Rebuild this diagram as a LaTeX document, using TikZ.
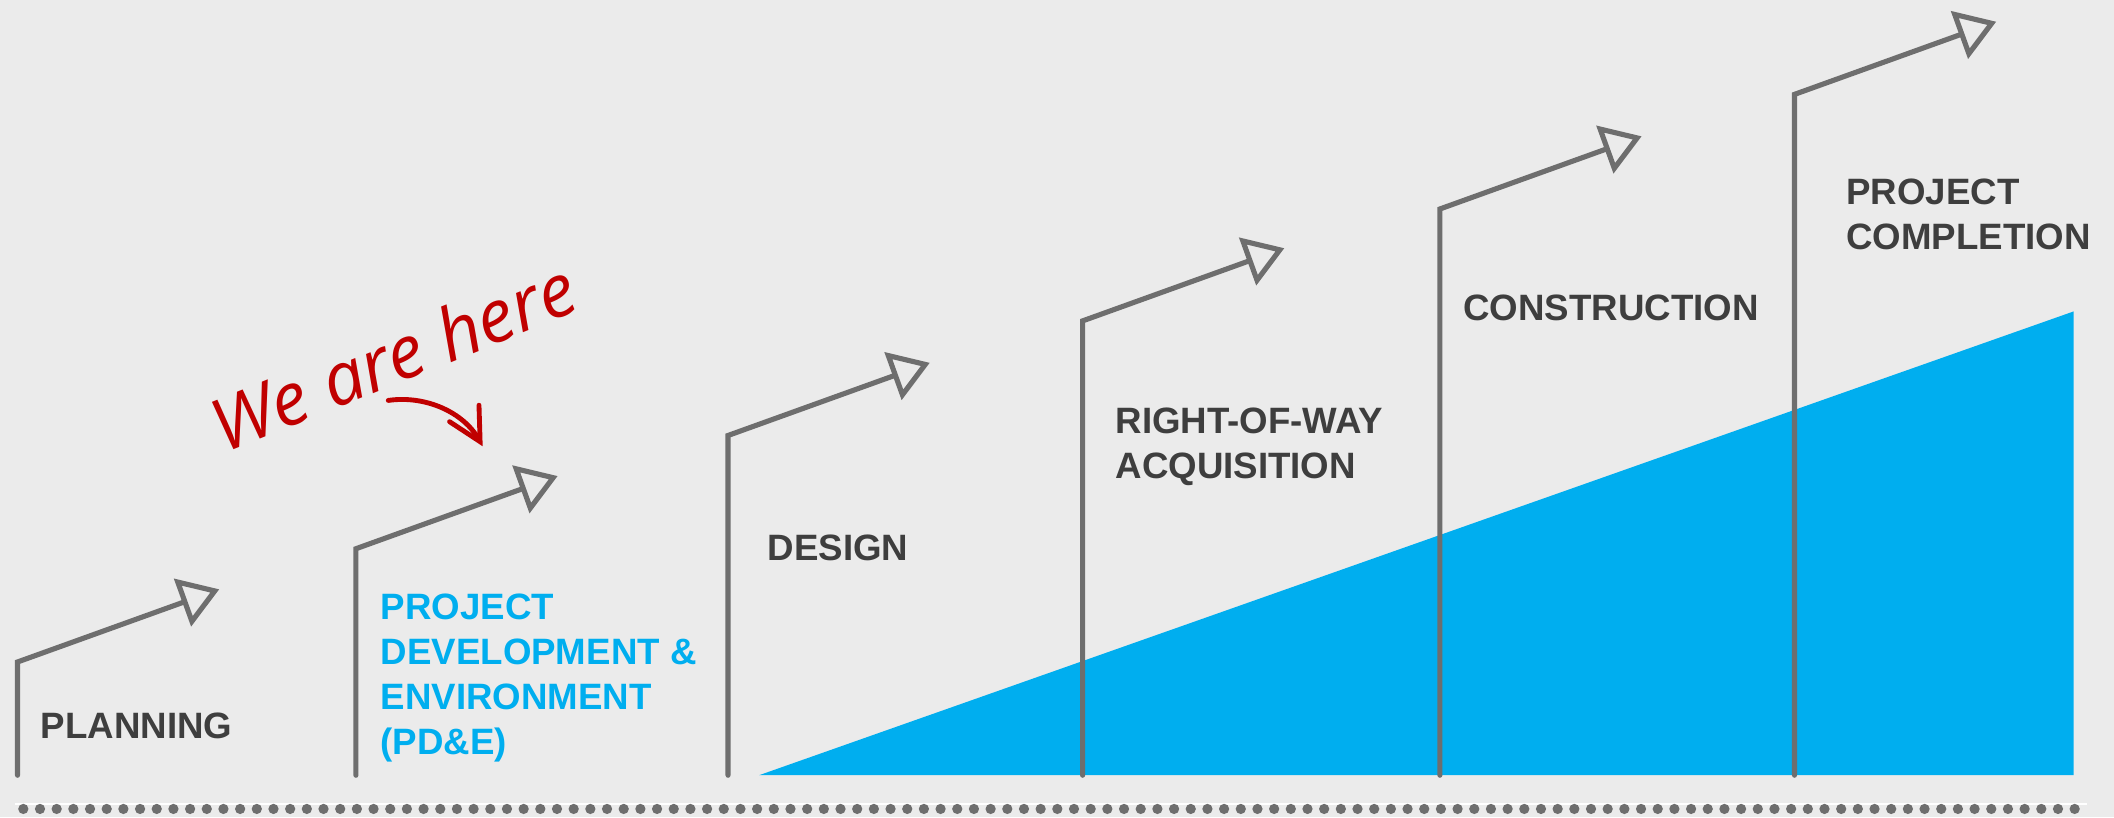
\documentclass[tikz,border=0pt]{standalone}
\usepackage{fontspec}
\setmainfont{Liberation Sans}
\newfontfamily\handfont{Open Sans}
\usetikzlibrary{arrows.meta}
\definecolor{bgc}{HTML}{EBEBEB}
\definecolor{arrowgray}{HTML}{6E6E6E}
\definecolor{textgray}{HTML}{3E3E3E}
\definecolor{blueone}{HTML}{00AEEF}
\definecolor{redone}{HTML}{C00000}
\begin{document}
\begin{tikzpicture}[x=0.5pt,y=-0.5pt,
  stage/.style={draw=arrowgray, line width=1.9pt, line join=miter, line cap=round,
    -{Triangle[open, length=14.5pt, width=18.5pt, line join=miter]}},
  lbl/.style={anchor=north west, inner sep=0pt,
    font=\fontsize{13.6}{16.75}\selectfont\bfseries, text=textgray, align=left},
  dot/.style={fill=arrowgray},
]
\fill[bgc] (0,0) rectangle (1568,606);
\useasboundingbox (0,0) rectangle (1568,606);
% blue wedge
\fill[blueone] (563,575) -- (1538,575) -- (1538,231) -- cycle;
% stage coordinates
\coordinate (b1) at (13,575);   \coordinate (c1) at (13,491);   \coordinate (t1) at (162.6,437.1);
\coordinate (b2) at (264,575);  \coordinate (c2) at (264,407);  \coordinate (t2) at (413.6,353.1);
\coordinate (b3) at (540,575);  \coordinate (c3) at (540,323);  \coordinate (t3) at (689.6,269.1);
\coordinate (b4) at (803,575);  \coordinate (c4) at (803,238);  \coordinate (t4) at (952.6,184.1);
\coordinate (b5) at (1068,575); \coordinate (c5) at (1068,155); \coordinate (t5) at (1217.6,101.1);
\coordinate (b6) at (1331,575); \coordinate (c6) at (1331,70);  \coordinate (t6) at (1480.6,16.1);
\foreach \i in {1,...,6}{\draw[stage] (b\i) -- (c\i) -- (t\i);}
% labels
\node[lbl] (plan) at (30,528) {PLANNING};
\node[lbl, text=blueone] (pde) at (282,440) {PROJECT\\DEVELOPMENT \&\\ENVIRONMENT\\(PD\&E)};
\node[lbl] (des) at (569,396) {DESIGN};
\node[lbl] (row) at (827,302) {RIGHT-OF-WAY\\ACQUISITION};
\node[lbl] (con) at (1085,218) {CONSTRUCTION};
\node[lbl] (comp) at (1369,132) {PROJECT\\COMPLETION};
% we are here
\node[rotate=22, anchor=base, text=redone, inner sep=0pt,
  font=\handfont\itshape\fontsize{27}{31}\selectfont] (here) at (299,283) {We are here};
\coordinate (r1) at (288,297);
\coordinate (r2) at (316,293);
\coordinate (r3) at (344,306);
\coordinate (r4) at (358,331);
\draw[redone, line width=1.8pt, line cap=round,
  -{Straight Barb[length=12pt, width=12.5pt, line cap=round]}] (r1) .. controls (r2) and (r3) .. (r4);
% dotted base line
\draw[white, line width=0.6pt] (11,596.5) -- (1548,596.5);
\foreach \i in {0,...,123}{\fill[dot] (17.3+12.37*\i, 600) circle[radius=1.9pt];}
\end{tikzpicture}
\end{document}
